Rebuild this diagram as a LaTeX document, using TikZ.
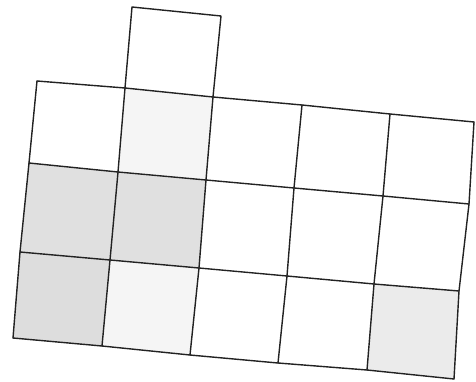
\documentclass[tikz,border=0pt]{standalone}
\usetikzlibrary{calc}
\definecolor{ink}{HTML}{222222}
\definecolor{shadedark}{HTML}{DDDDDD}
\definecolor{shademid}{HTML}{E0E0E0}
\definecolor{shadelight}{HTML}{EBEBEB}
\definecolor{shadefaint}{HTML}{F5F5F5}

\begin{document}
\begin{tikzpicture}[
  x=1pt,y=-1pt,draw=ink,
  line width=1.4pt,line cap=round,line join=round,
  gridline/.style={draw=ink,line width=1.4pt}
]
\useasboundingbox (0,0) rectangle (476,382);

% Hand-drawn grid corners: p<row><col>, rows top to bottom.
\coordinate (p00) at (37,81);
\coordinate (p01) at (125,88);
\coordinate (p02) at (213,97);
\coordinate (p03) at (302,105);
\coordinate (p04) at (390,114);
\coordinate (p05) at (474,122);
\coordinate (p10) at (29,163);
\coordinate (p11) at (118,172);
\coordinate (p12) at (206,180);
\coordinate (p13) at (294,188);
\coordinate (p14) at (383,196);
\coordinate (p15) at (469,204);
\coordinate (p20) at (20,252);
\coordinate (p21) at (110,260);
\coordinate (p22) at (199,268);
\coordinate (p23) at (287,276);
\coordinate (p24) at (374,284);
\coordinate (p25) at (459,291);
\coordinate (p30) at (13,338);
\coordinate (p31) at (102,346);
\coordinate (p32) at (190,355);
\coordinate (p33) at (278,363);
\coordinate (p34) at (367,370);
\coordinate (p35) at (454,379);
% Lone square on top of the second column.
\coordinate (t1) at (132,7);
\coordinate (t2) at (221,16);

% Shaded cells.
\fill[shadefaint] (p01) -- (p02) -- (p12) -- (p11) -- cycle;
\fill[shademid] (p10) -- (p11) -- (p21) -- (p20) -- cycle;
\fill[shademid] (p11) -- (p12) -- (p22) -- (p21) -- cycle;
\fill[shadedark] (p20) -- (p21) -- (p31) -- (p30) -- cycle;
\fill[shadefaint] (p21) -- (p22) -- (p32) -- (p31) -- cycle;
\fill[shadelight] (p24) -- (p25) -- (p35) -- (p34) -- cycle;

% Grid lines.
\foreach \r in {0,1,2,3}
  \draw[gridline] (p\r0) -- (p\r1) -- (p\r2) -- (p\r3) -- (p\r4) -- (p\r5);
\foreach \c in {0,1,2,3,4,5}
  \draw[gridline] (p0\c) -- (p1\c) -- (p2\c) -- (p3\c);
\draw[gridline] (p01) -- (t1) -- (t2) -- (p02);

\end{tikzpicture}
\end{document}
